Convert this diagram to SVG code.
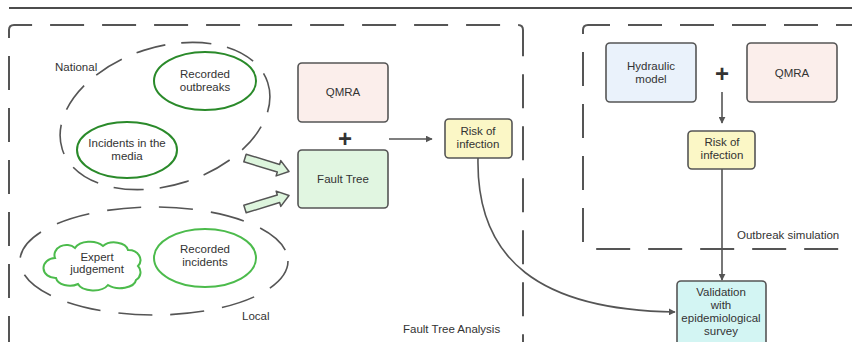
<svg xmlns="http://www.w3.org/2000/svg" width="852" height="342" viewBox="0 0 852 342">
  <defs>
    <style>
      .txt { font-family: "Liberation Sans", Arial, sans-serif; font-size: 11.5px; fill: #333; text-anchor: middle; dominant-baseline: central; }
      .lbl { font-family: "Liberation Sans", Arial, sans-serif; font-size: 11.5px; fill: #333; dominant-baseline: central; }
      .plus { font-family: "Liberation Sans", Arial, sans-serif; font-size: 24px; font-weight: bold; fill: #333; text-anchor: middle; dominant-baseline: central; }
      .box { stroke: #555; stroke-width: 1.6; }
      .frame { fill: none; stroke: #555; stroke-width: 2; stroke-dasharray: 34 18; }
      .group { fill: none; stroke: #555; stroke-width: 1.6; stroke-dasharray: 30 16; }
      .natl { fill: #fff; stroke: #2a8a2a; stroke-width: 2; }
      .locl { fill: #fff; stroke: #4cbb4c; stroke-width: 2; }
      .conn { fill: none; stroke: #555; stroke-width: 1.6; }
      .block { fill: #ddf5dd; stroke: #555; stroke-width: 1.5; stroke-linejoin: round; }
    </style>
    <marker id="head" viewBox="0 0 10 10" refX="9" refY="5" markerWidth="7" markerHeight="7" orient="auto" markerUnits="userSpaceOnUse">
      <path d="M0,0 L10,5 L0,10 Z" fill="#555"/>
    </marker>
    <polygon id="blockArrow" points="0,-4 35,-4 35,-8 46,0 35,8 35,4 0,4"/>
  </defs>

  <rect width="852" height="342" fill="#fff"/>

  <!-- top rule -->
  <line x1="9" y1="8" x2="852" y2="8" stroke="#111" stroke-width="1.4"/>

  <!-- frames -->
  <g id="fault-tree-analysis">
    <path class="frame" d="M9,350 L9,30 Q9,25 14,25 L518,25 Q523,25 523,30 L523,350"/>
    <text class="lbl" x="403" y="329">Fault Tree Analysis</text>
  </g>
  <g id="outbreak-simulation">
    <path class="frame" d="M870,25 L588,25 Q583,25 583,30 L583,244 Q583,249 588,249 L870,249"/>
    <text class="lbl" x="737" y="235">Outbreak simulation</text>
  </g>

  <!-- national sources -->
  <g id="national">
    <ellipse class="group" cx="165" cy="116" rx="108" ry="69" transform="rotate(-18 165 116)"/>
    <text class="lbl" x="55" y="67">National</text>
  </g>
  <g id="recorded-outbreaks">
    <ellipse class="natl" cx="205" cy="81" rx="51" ry="29"/>
    <text class="txt" x="205" y="74">Recorded</text>
    <text class="txt" x="205" y="87">outbreaks</text>
  </g>
  <g id="incidents-media">
    <ellipse class="natl" cx="127" cy="150" rx="50" ry="28"/>
    <text class="txt" x="127" y="143">Incidents in the</text>
    <text class="txt" x="127" y="156">media</text>
  </g>

  <!-- local sources -->
  <g id="local">
    <ellipse class="group" cx="154" cy="261" rx="134" ry="54" style="stroke-dasharray: 34 18"/>
    <text class="lbl" x="242" y="316">Local</text>
  </g>
  <g id="expert-judgement">
    <path class="locl" d="M55,258 a12,10 0 0 1 20,-10 a16,10 0 0 1 28,-2 a14,9 0 0 1 25,4 a12,10 0 0 1 10,16 a9,9 0 0 1 -2,14 a16,9 0 0 1 -28,5 a16,9 0 0 1 -30,-1 a14,9 0 0 1 -22,-6 a12,10 0 0 1 -1,-20 Z"/>
    <text class="txt" x="97" y="257">Expert</text>
    <text class="txt" x="97" y="269">judgement</text>
  </g>
  <g id="recorded-incidents">
    <ellipse class="locl" cx="205" cy="258" rx="51" ry="29"/>
    <text class="txt" x="205" y="249">Recorded</text>
    <text class="txt" x="205" y="262">incidents</text>
  </g>

  <!-- fault tree side -->
  <g id="qmra-1">
    <rect class="box" x="298" y="63" width="90" height="59" rx="4" fill="#fbeeeb"/>
    <text class="txt" x="343" y="92">QMRA</text>
  </g>
  <text class="plus" x="345" y="138">+</text>
  <g id="fault-tree">
    <rect class="box" x="298" y="150" width="90" height="58" rx="4" fill="#e1f6e1"/>
    <text class="txt" x="343" y="179">Fault Tree</text>
  </g>
  <g id="risk-1">
    <rect class="box" x="445" y="119" width="67" height="39" rx="4" fill="#fbf7c6"/>
    <text class="txt" x="478" y="131">Risk of</text>
    <text class="txt" x="478" y="144">infection</text>
  </g>

  <!-- simulation side -->
  <g id="hydraulic-model">
    <rect class="box" x="606" y="43" width="90" height="59" rx="4" fill="#eaf2fb"/>
    <text class="txt" x="651" y="66">Hydraulic</text>
    <text class="txt" x="651" y="79">model</text>
  </g>
  <text class="plus" x="722" y="73">+</text>
  <g id="qmra-2">
    <rect class="box" x="747" y="43" width="90" height="59" rx="4" fill="#fbeeeb"/>
    <text class="txt" x="792" y="73">QMRA</text>
  </g>
  <g id="risk-2">
    <rect class="box" x="688" y="131" width="67" height="38" rx="4" fill="#fbf7c6"/>
    <text class="txt" x="722" y="142">Risk of</text>
    <text class="txt" x="722" y="155">infection</text>
  </g>

  <g id="validation">
    <rect class="box" x="677" y="281" width="89" height="80" rx="4" fill="#d3f5f3"/>
    <text class="txt" x="721" y="292">Validation</text>
    <text class="txt" x="721" y="305">with</text>
    <text class="txt" x="721" y="318">epidemiological</text>
    <text class="txt" x="721" y="331">survey</text>
  </g>

  <!-- connectors -->
  <g id="connectors">
    <use href="#blockArrow" class="block" transform="translate(245,158) rotate(17)"/>
    <use href="#blockArrow" class="block" transform="translate(245,209) rotate(-17)"/>
    <line class="conn" x1="389" y1="139" x2="432" y2="139" marker-end="url(#head)"/>
    <line class="conn" x1="722" y1="92" x2="722" y2="123" marker-end="url(#head)"/>
    <line class="conn" x1="722" y1="169" x2="722" y2="280" marker-end="url(#head)"/>
    <path class="conn" d="M478,158 C476,260 540,310 675,312" marker-end="url(#head)"/>
  </g>
</svg>
